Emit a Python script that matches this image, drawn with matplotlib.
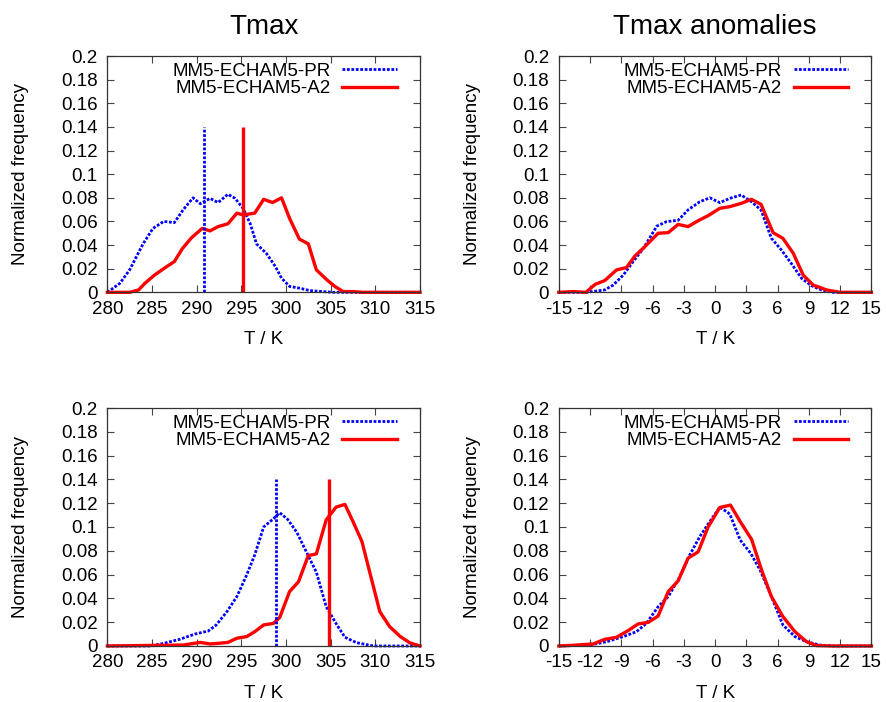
import matplotlib
matplotlib.use('Agg')
import matplotlib.pyplot as plt

plt.rcParams['font.family'] = ['Liberation Sans', 'DejaVu Sans']
plt.rcParams['axes.unicode_minus'] = False

# Tmax, first season (top left)
tl_pr_x = [280, 281.4, 282.5, 284.0, 285.1, 286.3, 287.5, 288.5, 289.6, 290.4, 291.5, 292.4, 293.5, 294.3,
           295.2, 296.0, 296.7, 297.8, 298.8, 299.5, 300.4, 301.6, 302.7, 305.3, 315]
tl_pr_y = [0, 0.0076, 0.019, 0.041, 0.054, 0.060, 0.059, 0.070, 0.080, 0.075, 0.0795, 0.076, 0.083, 0.0795,
           0.071, 0.058, 0.041, 0.033, 0.022, 0.012, 0.005, 0.0034, 0.0014, 0, 0]
tl_a2_x = [280, 282.5, 283.5, 284.2, 285.3, 286.5, 287.5, 288.4, 289.4, 290.6, 291.5, 292.4, 293.5, 294.5,
           295.2, 296.5, 297.5, 298.5, 299.5, 300.4, 301.5, 302.5, 303.4, 304.6, 305.5, 306.4, 307.5, 308.6, 315]
tl_a2_y = [0, 0, 0.002, 0.0076, 0.0147, 0.021, 0.026, 0.037, 0.046, 0.054, 0.052, 0.0556, 0.058, 0.067,
           0.0655, 0.067, 0.0787, 0.076, 0.080, 0.0626, 0.045, 0.041, 0.019, 0.0104, 0.0048, 0.0006, 0.0006, 0, 0]
tl_means = [290.85, 295.15]

# Tmax, second season (bottom left)
bl_pr_x = [280, 284.8, 286.3, 288.1, 289.8, 291.3, 292.2, 293.4, 294.5, 295.6, 296.5, 297.5, 298.6, 299.3,
           300.2, 301.2, 302.3, 303.4, 304.5, 305.7, 306.6, 307.9, 309.8, 315]
bl_pr_y = [0, 0, 0.0022, 0.0056, 0.010, 0.0126, 0.0177, 0.029, 0.0415, 0.0597, 0.0765, 0.100, 0.107, 0.112,
           0.1063, 0.0957, 0.0788, 0.062, 0.033, 0.0177, 0.0073, 0.0028, 0, 0]
bl_a2_x = [280, 288.5, 290.4, 291.5, 292.4, 293.5, 294.5, 295.6, 296.5, 297.5, 298.6, 299.3, 300.4, 301.4,
           302.5, 303.4, 304.5, 305.6, 306.6, 307.5, 308.5, 309.5, 310.5, 311.6, 312.8, 313.9, 315]
bl_a2_y = [0, 0.0008, 0.003, 0.0017, 0.0022, 0.003, 0.0065, 0.0079, 0.012, 0.0177, 0.019, 0.024, 0.0457, 0.054,
           0.076, 0.0774, 0.106, 0.1167, 0.119, 0.1046, 0.0878, 0.0583, 0.0289, 0.0163, 0.0079, 0.0025, 0]
bl_means = [298.9, 304.85]

# Tmax anomalies, first season (top right)
tr_pr_x = [-15, -12.35, -10.6, -9.8, -8.8, -7.87, -6.9, -5.6, -4.67, -3.55, -2.6, -1.47, -0.51, 0.45, 1.4,
           2.5, 3.48, 4.4, 5.4, 6.36, 7.3, 8.3, 9.24, 10.2, 11.3, 15]
tr_pr_y = [0, 0, 0.002, 0.006, 0.0147, 0.026, 0.037, 0.056, 0.0598, 0.061, 0.0697, 0.0767, 0.080, 0.0759, 0.0795,
           0.0824, 0.0767, 0.0697, 0.0457, 0.0358, 0.0245, 0.0118, 0.0056, 0.002, 0, 0]
tr_a2_x = [-15, -13.6, -12.4, -11.5, -10.6, -9.47, -8.5, -7.7, -6.75, -5.47, -4.5, -3.55, -2.6, -1.63, -0.67,
           0.45, 1.4, 2.5, 3.48, 4.4, 5.56, 6.5, 7.5, 8.44, 9.4, 10.7, 11.96, 15]
tr_a2_y = [0, 0.0006, 0, 0.0068, 0.0099, 0.0189, 0.021, 0.0307, 0.0386, 0.050, 0.0505, 0.0575, 0.0556, 0.0606,
           0.0649, 0.0711, 0.0725, 0.0753, 0.0787, 0.0745, 0.0505, 0.0457, 0.033, 0.0147, 0.0062, 0.002, 0, 0]

# Tmax anomalies, second season (bottom right)
br_pr_x = [-15, -12, -10.4, -8.8, -7.55, -6.6, -5.47, -4.5, -3.4, -2.43, -1.47, -0.51, 0.45, 1.4, 2.4, 3.4,
           4.3, 5.4, 6.5, 7.65, 8.76, 10.04, 11.3, 15]
br_pr_y = [0, 0.0008, 0.0036, 0.0079, 0.012, 0.019, 0.033, 0.0415, 0.058, 0.0766, 0.092, 0.1046, 0.1167, 0.111,
           0.0891, 0.078, 0.064, 0.0415, 0.0177, 0.0079, 0.0036, 0.0008, 0, 0]
br_a2_x = [-15, -13.6, -11.7, -10.6, -9.47, -8.35, -7.4, -6.4, -5.47, -4.5, -3.55, -2.6, -1.63, -0.67, 0.45,
           1.47, 2.4, 3.5, 4.45, 5.4, 6.5, 7.65, 8.76, 9.72, 11.3, 15]
br_a2_y = [0, 0.0006, 0.0017, 0.0056, 0.0073, 0.0129, 0.0185, 0.0199, 0.0252, 0.0457, 0.0547, 0.0738, 0.0791,
           0.1001, 0.1164, 0.1184, 0.1046, 0.0895, 0.064, 0.0415, 0.0247, 0.0121, 0.0036, 0.0003, 0, 0]

mean_height = 0.14
labels = ['MM5-ECHAM5-PR', 'MM5-ECHAM5-A2']
t_ticks = [280, 285, 290, 295, 300, 305, 310, 315]
anom_ticks = [-15, -12, -9, -6, -3, 0, 3, 6, 9, 12, 15]
y_ticks = [0, 0.02, 0.04, 0.06, 0.08, 0.1, 0.12, 0.14, 0.16, 0.18, 0.2]

blue = '#0000ff'
red = '#ff0000'
fs = 13.5
dots = (0, (1, 0.6))

fig = plt.figure(figsize=(8.87, 7.02), dpi=100)
w, h_top, h_bot = 0.3525, 0.3366, 0.339
ax_tl = fig.add_axes([0.121, 0.5836, w, h_top])
ax_tr = fig.add_axes([0.630, 0.5836, w, h_top])
ax_bl = fig.add_axes([0.121, 0.0798, w, h_bot])
ax_br = fig.add_axes([0.630, 0.0798, w, h_bot])


def style(ax, xlim, xticks):
    ax.set_xlim(xlim)
    ax.set_ylim(0, 0.2)
    ax.set_xticks(xticks)
    ax.set_yticks(y_ticks)
    ax.set_yticklabels(['%g' % v for v in y_ticks])
    ax.tick_params(direction='in', top=True, right=True, length=5, width=0.8,
                   labelsize=fs, color='#444444')
    ax.tick_params(axis='x', pad=6)
    ax.tick_params(axis='y', pad=7)
    for s in ax.spines.values():
        s.set_linewidth(0.9)
        s.set_color('#333333')
    ax.set_xlabel('T / K', fontsize=fs)
    ax.set_ylabel('Normalized frequency', fontsize=fs)
    ax.xaxis.set_label_coords(0.5, -0.165)
    ax.yaxis.set_label_coords(-0.25, 0.5)
    ax.legend(loc='upper right', bbox_to_anchor=(0.926, 0.972), frameon=False,
              markerfirst=False, fontsize=fs, handlelength=2.9, handletextpad=0.65,
              labelspacing=0.02, borderpad=0, borderaxespad=0)


def curves(ax, px, py, ax2, ay):
    ax.plot(px, py, color=blue, lw=2.0, ls=dots, label=labels[0], clip_on=False)
    ax.plot(ax2, ay, color=red, lw=2.4, label=labels[1], clip_on=False)


curves(ax_tl, tl_pr_x, tl_pr_y, tl_a2_x, tl_a2_y)
ax_tl.vlines(tl_means[0], 0, mean_height, color=blue, lw=2.0, ls=dots)
ax_tl.vlines(tl_means[1], 0, mean_height, color=red, lw=2.4)
style(ax_tl, (280, 315), t_ticks)
ax_tl.set_title('Tmax', fontsize=20, pad=16)

curves(ax_tr, tr_pr_x, tr_pr_y, tr_a2_x, tr_a2_y)
style(ax_tr, (-15, 15), anom_ticks)
ax_tr.set_title('Tmax anomalies', fontsize=20, pad=16)

curves(ax_bl, bl_pr_x, bl_pr_y, bl_a2_x, bl_a2_y)
ax_bl.vlines(bl_means[0], 0, mean_height, color=blue, lw=2.0, ls=dots)
ax_bl.vlines(bl_means[1], 0, mean_height, color=red, lw=2.4)
style(ax_bl, (280, 315), t_ticks)

curves(ax_br, br_pr_x, br_pr_y, br_a2_x, br_a2_y)
style(ax_br, (-15, 15), anom_ticks)

fig.savefig('out.png', dpi=100)
